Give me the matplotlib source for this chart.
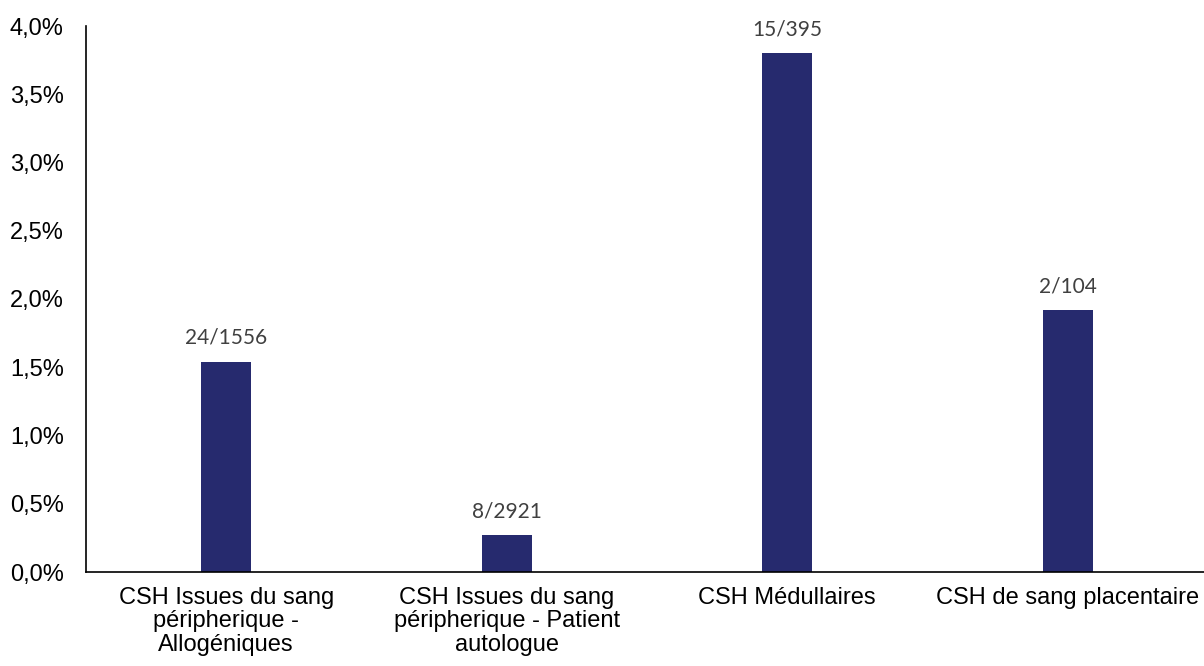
import matplotlib
matplotlib.use("Agg")
import matplotlib.pyplot as plt
from matplotlib.ticker import FuncFormatter

categories = [
    "CSH Issues du sang\npéripherique -\nAllogéniques",
    "CSH Issues du sang\npéripherique - Patient\nautologue",
    "CSH Médullaires",
    "CSH de sang placentaire",
]
rates = [1.54, 0.27, 3.80, 1.92]
labels = ["24/1556", "8/2921", "15/395", "2/104"]

fig = plt.figure(figsize=(12.04, 6.66), dpi=100)
ax = fig.add_axes([86 / 1204, 1 - 572 / 666, 1122 / 1204, 546 / 666])

x = range(len(categories))
ax.bar(x, rates, width=0.18, color="#262a6e")

for xi, v, lab in zip(x, rates, labels):
    ax.annotate(lab, (xi, v), xytext=(0, 10), textcoords="offset points",
                ha="center", va="bottom", fontsize=15, color="#404040",
                family="Lato")

ax.set_xlim(-0.5, 3.5)
ax.set_ylim(0, 4.0)
ax.set_yticks([0, 0.5, 1, 1.5, 2, 2.5, 3, 3.5, 4])
ax.yaxis.set_major_formatter(FuncFormatter(lambda v, p: f"{v:.1f}%".replace(".", ",")))
ax.set_xticks(list(x))
ax.set_xticklabels(categories, fontsize=17, family="Liberation Sans", linespacing=1.07)
for t in ax.get_yticklabels():
    t.set_fontsize(17)
    t.set_family("Liberation Sans")

ax.tick_params(axis="x", length=0, pad=11)
ax.tick_params(axis="y", length=0, pad=16)
ax.spines["top"].set_visible(False)
ax.spines["right"].set_visible(False)
ax.spines["left"].set_linewidth(1.2)
ax.spines["bottom"].set_linewidth(1.2)

fig.savefig("out.png", dpi=100)
